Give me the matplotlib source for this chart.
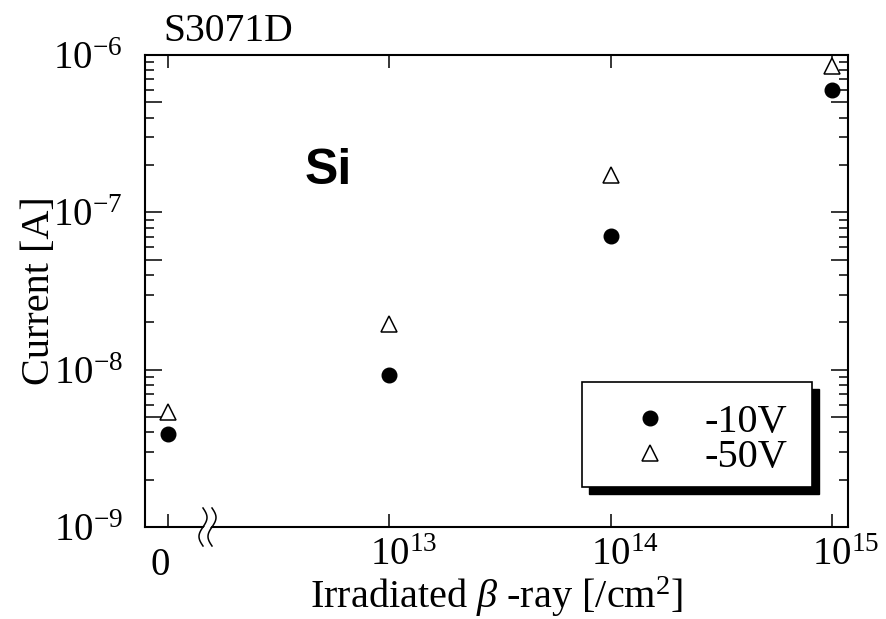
import numpy as np
import matplotlib
matplotlib.use("Agg")
import matplotlib.pyplot as plt
from matplotlib import ticker, transforms
from matplotlib.patches import Rectangle, Polygon
from matplotlib.lines import Line2D

plt.rcParams.update({
    "font.family": ["Liberation Serif", "DejaVu Serif"],
    "mathtext.fontset": "custom",
    "mathtext.rm": "Liberation Serif",
    "mathtext.it": "Liberation Serif:italic",
    "mathtext.bf": "Liberation Serif:bold",
    "font.size": 27,
})

# Irradiation fluence categories; the "0" point sits one decade left of 1e13,
# behind an axis break.
fluence_pos = [1e12, 1e13, 1e14, 1e15]
fluence_labels = ["0", "$10^{13}$", "$10^{14}$", "$10^{15}$"]

# Dark current [A]
current_10v = [3.9e-9, 9.2e-9, 7.1e-8, 6.0e-7]
current_50v = [5.4e-9, 1.95e-8, 1.72e-7, 8.5e-7]
series_labels = ["-10V", "-50V"]

y_major = [1e-9, 5e-9, 1e-8, 5e-8, 1e-7, 5e-7, 1e-6]

W, H = 886, 619
fig = plt.figure(figsize=(W / 100, H / 100), dpi=100)
ax = fig.add_axes([145 / W, 1 - 527 / H, 703 / W, 472 / H])

ax.plot(fluence_pos, current_10v, linestyle="none", marker="o", markersize=10.5,
        color="black", label=series_labels[0], clip_on=False, zorder=4)
ax.plot(fluence_pos, current_50v, linestyle="none", marker="^", markersize=11,
        markerfacecolor="white", markeredgecolor="black", markeredgewidth=1.1,
        label=series_labels[1], clip_on=False, zorder=4)

ax.set_xscale("log")
ax.set_yscale("log")
ax.set_xlim(10 ** 11.896, 10 ** 15.072)
ax.set_ylim(1e-9, 1e-6)

# x ticks
ax.set_xticks(fluence_pos, fluence_labels)
ax.xaxis.set_minor_locator(ticker.NullLocator())
ax.tick_params(axis="x", which="major", direction="in", length=9.5, width=1.1,
               top=True, bottom=True, pad=1, labelsize=28)
for lab, txt in zip(ax.get_xticklabels(), fluence_labels):
    if txt == "0":
        off = transforms.ScaledTranslation(-8 / 100, -19 / 100, fig.dpi_scale_trans)
    else:
        off = transforms.ScaledTranslation(14 / 100, -9 / 100, fig.dpi_scale_trans)
    lab.set_transform(lab.get_transform() + off)

# y ticks
def decade_label(v, pos):
    e = np.log10(v)
    if abs(e - round(e)) < 1e-6:
        return "$10^{%d}$" % round(e)
    return ""

ax.yaxis.set_major_locator(ticker.FixedLocator(y_major))
ax.yaxis.set_major_formatter(ticker.FuncFormatter(decade_label))
ax.yaxis.set_minor_locator(ticker.LogLocator(base=10, subs=[2, 3, 4, 6, 7, 8, 9]))
ax.yaxis.set_minor_formatter(ticker.NullFormatter())
ax.tick_params(axis="y", which="major", direction="in", length=12, width=1.1,
               left=True, right=True, pad=16, labelsize=28)
ax.tick_params(axis="y", which="minor", direction="in", length=6.5, width=1.1,
               left=True, right=True)

for s in ax.spines.values():
    s.set_linewidth(1.5)

ax.set_ylabel("Current [A]", fontsize=29)
ax.yaxis.set_label_coords(-0.124, 0.5)
ax.set_xlabel(r"Irradiated $\beta$ -ray [/cm$^{2}$]", va="top", fontsize=29)
ax.xaxis.set_label_coords(0.5, -0.100)

fig.text(163 / W, 1 - 41 / H, "S3071D", va="baseline", ha="left", fontsize=28.5)
fig.text(305 / W, 1 - 184 / H, "Si", va="baseline", ha="left", fontsize=36,
         fontweight="bold", family=["Liberation Sans", "DejaVu Sans"])

# Legend frame with solid drop shadow
bx, by, bw, bh = 0.6216, 0.0847, 0.3272, 0.2225
ax.add_patch(Rectangle((bx + 0.0100, by - 0.0148), bw, bh, transform=ax.transAxes,
                       facecolor="black", edgecolor="black", zorder=5))
ax.add_patch(Rectangle((bx, by), bw, bh, transform=ax.transAxes,
                       facecolor="white", edgecolor="black", linewidth=1.2, zorder=5.1))
leg = ax.legend(loc="center left", bbox_to_anchor=(0.704, 0.184), frameon=False,
                fontsize=29, handlelength=0.5, handletextpad=1.1, labelspacing=-0.05,
                borderpad=0, borderaxespad=0, numpoints=1)
leg.set_zorder(6)

# Axis break marks on the bottom spine
yy = np.linspace(-0.19, 0.19, 80)
xx = 0.04 * np.sin(np.pi * yy / 0.19)
for cx in (0.0825, 0.0953):
    tr = fig.dpi_scale_trans + transforms.ScaledTranslation(cx, 0, ax.transAxes)
    ax.add_line(Line2D(xx, yy, transform=tr, color="black", linewidth=1.1,
                       clip_on=False, zorder=7))
tr0 = fig.dpi_scale_trans + transforms.ScaledTranslation(0.0825, 0, ax.transAxes)
dx = (0.0953 - 0.0825) * 703 / 100
gy = np.linspace(-0.03, 0.03, 10)
gx = 0.04 * np.sin(np.pi * gy / 0.19)
poly = np.column_stack([np.concatenate([gx + 0.012, (gx + dx - 0.012)[::-1]]),
                        np.concatenate([gy, gy[::-1]])])
ax.add_patch(Polygon(poly, closed=True, transform=tr0, facecolor="white",
                     edgecolor="none", clip_on=False, zorder=6.5))

fig.savefig("out.png", dpi=100)
